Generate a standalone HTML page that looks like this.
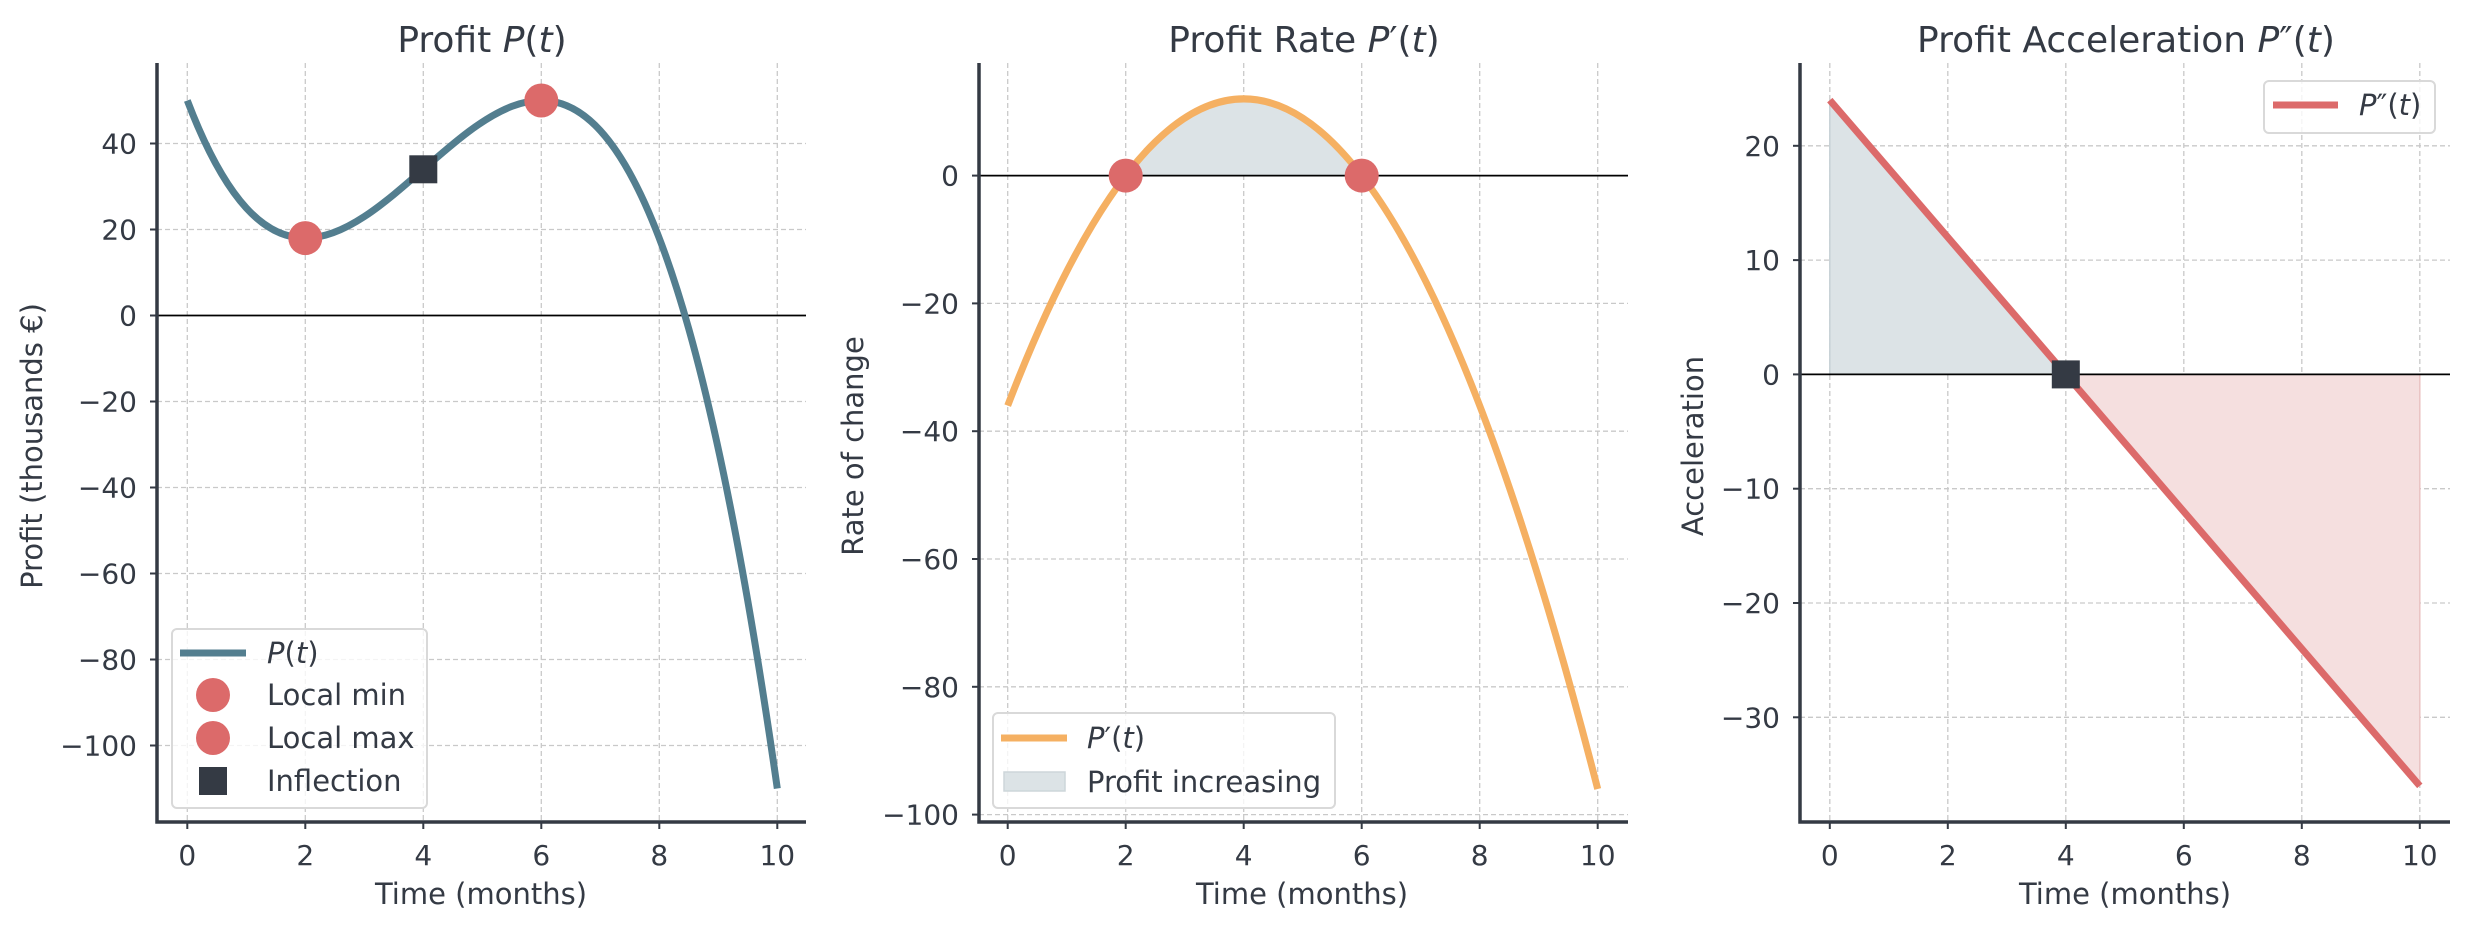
<!DOCTYPE html>
<html><head><meta charset="utf-8"><style>
html,body{margin:0;padding:0;background:#fff;}
svg{display:block;font-family:"DejaVu Sans","Liberation Sans",sans-serif;}
.tk{font-size:28px;fill:#343a44;}
.lb{font-size:29px;fill:#343a44;}
.tt{font-size:36px;fill:#343a44;}
.lg{font-size:29px;fill:#343a44;}
.g{stroke:#c9c9c9;stroke-width:1.3;stroke-dasharray:5,3;fill:none;}
.sp{stroke:#343a44;stroke-width:3.5;fill:none;}
.tm{stroke:#343a44;stroke-width:2;}
</style></head><body>
<svg width="2469" height="928" viewBox="0 0 2469 928" xmlns="http://www.w3.org/2000/svg">
<!-- ============ PANEL 1 ============ -->
<g>
<g class="g">
<line x1="187.3" y1="63" x2="187.3" y2="822"/><line x1="305.3" y1="63" x2="305.3" y2="822"/><line x1="423.3" y1="63" x2="423.3" y2="822"/><line x1="541.3" y1="63" x2="541.3" y2="822"/><line x1="659.3" y1="63" x2="659.3" y2="822"/><line x1="777.3" y1="63" x2="777.3" y2="822"/>
<line x1="157" y1="143.5" x2="806" y2="143.5"/><line x1="157" y1="229.5" x2="806" y2="229.5"/><line x1="157" y1="401.5" x2="806" y2="401.5"/><line x1="157" y1="487.5" x2="806" y2="487.5"/><line x1="157" y1="573.5" x2="806" y2="573.5"/><line x1="157" y1="659.5" x2="806" y2="659.5"/><line x1="157" y1="745.5" x2="806" y2="745.5"/>
</g>
<line x1="157" y1="315.5" x2="806" y2="315.5" stroke="#000" stroke-width="1.8"/>
<path d="M187.3,100.5 C384,616.5 580.6,-587.5 777.3,788.5" fill="none" stroke="#537e8f" stroke-width="7"/>
<circle cx="305.3" cy="238.1" r="17" fill="#dc6a6a"/>
<circle cx="541.3" cy="100.5" r="17" fill="#dc6a6a"/>
<rect x="409.3" y="155.3" width="28" height="28" fill="#343a44"/>
<path class="sp" d="M157,63 V822 H806"/>
<g class="tm">
<line x1="150" y1="143.5" x2="157" y2="143.5"/><line x1="150" y1="229.5" x2="157" y2="229.5"/><line x1="150" y1="315.5" x2="157" y2="315.5"/><line x1="150" y1="401.5" x2="157" y2="401.5"/><line x1="150" y1="487.5" x2="157" y2="487.5"/><line x1="150" y1="573.5" x2="157" y2="573.5"/><line x1="150" y1="659.5" x2="157" y2="659.5"/><line x1="150" y1="745.5" x2="157" y2="745.5"/>
<line x1="187.3" y1="822" x2="187.3" y2="829"/><line x1="305.3" y1="822" x2="305.3" y2="829"/><line x1="423.3" y1="822" x2="423.3" y2="829"/><line x1="541.3" y1="822" x2="541.3" y2="829"/><line x1="659.3" y1="822" x2="659.3" y2="829"/><line x1="777.3" y1="822" x2="777.3" y2="829"/>
</g>
<g class="tk" text-anchor="end">
<text x="137" y="153.5">40</text><text x="137" y="239.5">20</text><text x="137" y="325.5">0</text><text x="137" y="411.5">−20</text><text x="137" y="497.5">−40</text><text x="137" y="583.5">−60</text><text x="137" y="669.5">−80</text><text x="137" y="755.5">−100</text>
</g>
<g class="tk" text-anchor="middle">
<text x="187.3" y="865">0</text><text x="305.3" y="865">2</text><text x="423.3" y="865">4</text><text x="541.3" y="865">6</text><text x="659.3" y="865">8</text><text x="777.3" y="865">10</text>
</g>
<text class="lb" x="481" y="904" text-anchor="middle">Time (months)</text>
<text class="lb" transform="translate(42,446) rotate(-90)" text-anchor="middle">Profit (thousands €)</text>
<text class="tt" x="482" y="52" text-anchor="middle">Profit <tspan font-style="italic">P</tspan>(<tspan font-style="italic">t</tspan>)</text>
<rect x="172" y="629" width="255" height="179" rx="5" fill="#fff" fill-opacity="0.8" stroke="#d9d9d9" stroke-width="2"/>
<line x1="180" y1="653" x2="246" y2="653" stroke="#537e8f" stroke-width="7"/>
<circle cx="213" cy="695" r="17" fill="#dc6a6a"/>
<circle cx="213" cy="738" r="17" fill="#dc6a6a"/>
<rect x="199" y="767" width="28" height="28" fill="#343a44"/>
<text class="lg" x="267" y="663"><tspan font-style="italic">P</tspan>(<tspan font-style="italic">t</tspan>)</text>
<text class="lg" x="267" y="705">Local min</text>
<text class="lg" x="267" y="748">Local max</text>
<text class="lg" x="267" y="791">Inflection</text>
</g>

<!-- ============ PANEL 2 ============ -->
<g>
<g class="g">
<line x1="1007.7" y1="63" x2="1007.7" y2="822"/><line x1="1125.7" y1="63" x2="1125.7" y2="822"/><line x1="1243.7" y1="63" x2="1243.7" y2="822"/><line x1="1361.7" y1="63" x2="1361.7" y2="822"/><line x1="1479.7" y1="63" x2="1479.7" y2="822"/><line x1="1597.7" y1="63" x2="1597.7" y2="822"/>
<line x1="979" y1="303.4" x2="1628" y2="303.4"/><line x1="979" y1="431.2" x2="1628" y2="431.2"/><line x1="979" y1="559" x2="1628" y2="559"/><line x1="979" y1="686.8" x2="1628" y2="686.8"/><line x1="979" y1="814.6" x2="1628" y2="814.6"/>
</g>
<path d="M1125.7,175.6 Q1243.7,22.2 1361.7,175.6 Z" fill="#dce3e6"/>
<line x1="979" y1="175.6" x2="1628" y2="175.6" stroke="#000" stroke-width="1.8"/>
<path d="M1007.7,405.6 Q1302.7,-361.2 1597.7,789" fill="none" stroke="#f5b062" stroke-width="7"/>
<circle cx="1125.7" cy="175.6" r="17" fill="#dc6a6a"/>
<circle cx="1361.7" cy="175.6" r="17" fill="#dc6a6a"/>
<path class="sp" d="M979,63 V822 H1628"/>
<g class="tm">
<line x1="972" y1="175.6" x2="979" y2="175.6"/><line x1="972" y1="303.4" x2="979" y2="303.4"/><line x1="972" y1="431.2" x2="979" y2="431.2"/><line x1="972" y1="559" x2="979" y2="559"/><line x1="972" y1="686.8" x2="979" y2="686.8"/><line x1="972" y1="814.6" x2="979" y2="814.6"/>
<line x1="1007.7" y1="822" x2="1007.7" y2="829"/><line x1="1125.7" y1="822" x2="1125.7" y2="829"/><line x1="1243.7" y1="822" x2="1243.7" y2="829"/><line x1="1361.7" y1="822" x2="1361.7" y2="829"/><line x1="1479.7" y1="822" x2="1479.7" y2="829"/><line x1="1597.7" y1="822" x2="1597.7" y2="829"/>
</g>
<g class="tk" text-anchor="end">
<text x="959" y="185.6">0</text><text x="959" y="313.4">−20</text><text x="959" y="441.2">−40</text><text x="959" y="569">−60</text><text x="959" y="696.8">−80</text><text x="959" y="824.6">−100</text>
</g>
<g class="tk" text-anchor="middle">
<text x="1007.7" y="865">0</text><text x="1125.7" y="865">2</text><text x="1243.7" y="865">4</text><text x="1361.7" y="865">6</text><text x="1479.7" y="865">8</text><text x="1597.7" y="865">10</text>
</g>
<text class="lb" x="1302" y="904" text-anchor="middle">Time (months)</text>
<text class="lb" transform="translate(863,446) rotate(-90)" text-anchor="middle">Rate of change</text>
<text class="tt" x="1304" y="52" text-anchor="middle">Profit Rate <tspan font-style="italic">P</tspan>′(<tspan font-style="italic">t</tspan>)</text>
<rect x="993" y="713" width="342" height="95" rx="5" fill="#fff" fill-opacity="0.8" stroke="#d9d9d9" stroke-width="2"/>
<line x1="1001" y1="738" x2="1067" y2="738" stroke="#f5b062" stroke-width="7"/>
<rect x="1004" y="772" width="61" height="19" fill="#dce3e6" stroke="#cdd6da" stroke-width="1.5"/>
<text class="lg" x="1087" y="748"><tspan font-style="italic">P</tspan>′(<tspan font-style="italic">t</tspan>)</text>
<text class="lg" x="1087" y="792">Profit increasing</text>
</g>

<!-- ============ PANEL 3 ============ -->
<g>
<g class="g">
<line x1="1829.8" y1="63" x2="1829.8" y2="822"/><line x1="1947.8" y1="63" x2="1947.8" y2="822"/><line x1="2065.8" y1="63" x2="2065.8" y2="822"/><line x1="2183.8" y1="63" x2="2183.8" y2="822"/><line x1="2301.8" y1="63" x2="2301.8" y2="822"/><line x1="2419.8" y1="63" x2="2419.8" y2="822"/>
<line x1="1800" y1="145.8" x2="2450" y2="145.8"/><line x1="1800" y1="260.1" x2="2450" y2="260.1"/><line x1="1800" y1="488.7" x2="2450" y2="488.7"/><line x1="1800" y1="603" x2="2450" y2="603"/><line x1="1800" y1="717.3" x2="2450" y2="717.3"/>
</g>
<path d="M1829.8,100.1 L2065.8,374.4 L1829.8,374.4 Z" fill="#dce3e6"/>
<line x1="1829.8" y1="100.1" x2="1829.8" y2="374.4" stroke="#c7d1d6" stroke-width="1.5"/>
<path d="M2065.8,374.4 L2419.8,785.9 L2419.8,374.4 Z" fill="#f5dfdf"/>
<line x1="2419.8" y1="374.4" x2="2419.8" y2="785.9" stroke="#eac3c3" stroke-width="1.5"/>
<line x1="1800" y1="374.4" x2="2450" y2="374.4" stroke="#000" stroke-width="1.8"/>
<line x1="1829.8" y1="100.1" x2="2419.8" y2="785.9" stroke="#dc6a6a" stroke-width="7"/>
<rect x="2051.8" y="360.4" width="28" height="28" fill="#343a44"/>
<path class="sp" d="M1800,63 V822 H2450"/>
<g class="tm">
<line x1="1793" y1="145.8" x2="1800" y2="145.8"/><line x1="1793" y1="260.1" x2="1800" y2="260.1"/><line x1="1793" y1="374.4" x2="1800" y2="374.4"/><line x1="1793" y1="488.7" x2="1800" y2="488.7"/><line x1="1793" y1="603" x2="1800" y2="603"/><line x1="1793" y1="717.3" x2="1800" y2="717.3"/>
<line x1="1829.8" y1="822" x2="1829.8" y2="829"/><line x1="1947.8" y1="822" x2="1947.8" y2="829"/><line x1="2065.8" y1="822" x2="2065.8" y2="829"/><line x1="2183.8" y1="822" x2="2183.8" y2="829"/><line x1="2301.8" y1="822" x2="2301.8" y2="829"/><line x1="2419.8" y1="822" x2="2419.8" y2="829"/>
</g>
<g class="tk" text-anchor="end">
<text x="1780" y="155.8">20</text><text x="1780" y="270.1">10</text><text x="1780" y="384.4">0</text><text x="1780" y="498.7">−10</text><text x="1780" y="613">−20</text><text x="1780" y="727.3">−30</text>
</g>
<g class="tk" text-anchor="middle">
<text x="1829.8" y="865">0</text><text x="1947.8" y="865">2</text><text x="2065.8" y="865">4</text><text x="2183.8" y="865">6</text><text x="2301.8" y="865">8</text><text x="2419.8" y="865">10</text>
</g>
<text class="lb" x="2125" y="904" text-anchor="middle">Time (months)</text>
<text class="lb" transform="translate(1703,446) rotate(-90)" text-anchor="middle">Acceleration</text>
<text class="tt" x="2126" y="52" text-anchor="middle">Profit Acceleration <tspan font-style="italic">P</tspan>″(<tspan font-style="italic">t</tspan>)</text>
<rect x="2264" y="81" width="171" height="52" rx="5" fill="#fff" fill-opacity="0.8" stroke="#d9d9d9" stroke-width="2"/>
<line x1="2273" y1="105" x2="2338" y2="105" stroke="#dc6a6a" stroke-width="7"/>
<text class="lg" x="2359" y="115"><tspan font-style="italic">P</tspan>″(<tspan font-style="italic">t</tspan>)</text>
</g>
</svg>
</body></html>
